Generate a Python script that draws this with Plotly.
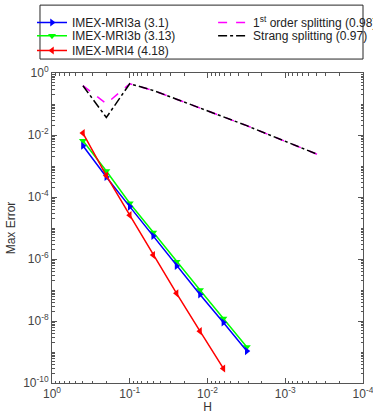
import plotly.graph_objects as go

H_imex = [0.4, 0.2, 0.1, 0.05, 0.025, 0.0125, 0.00625, 0.003125]
H_split = [0.4, 0.2, 0.1, 0.05, 0.025, 0.0125, 0.00625, 0.003125,
           0.0015625, 0.00078125, 0.000390625]

err_mri3a = [4.5e-3, 4.4e-4, 4.9e-5, 5.5e-6, 6.0e-7, 7.2e-8, 8.9e-9, 1.07e-9]
err_mri3b = [6.5e-3, 6.9e-4, 6.3e-5, 7.2e-6, 8.1e-7, 1.0e-7, 1.2e-8, 1.45e-9]
err_mri4 = [1.15e-2, 4.9e-4, 2.6e-5, 1.35e-6, 7.8e-8, 4.7e-9, 2.95e-10]
err_first = [0.389, 0.102, 0.451, 0.274, 0.143, 0.0745, 0.0402, 0.020,
             0.00984, 0.00485, 0.0024]
err_strang = [0.389, 0.0367, 0.451, 0.274, 0.143, 0.0745, 0.0402, 0.020,
              0.00984, 0.00485, 0.0024]

names = ["IMEX-MRI3a (3.1)", "IMEX-MRI3b (3.13)", "IMEX-MRI4 (4.18)",
         "1<sup>st</sup> order splitting (0.98)",
         "Strang splitting (0.97)"]

x_tickvals = [1, 0.1, 0.01, 0.001, 0.0001]
x_ticktext = ["10<sup>0</sup>", "10<sup>-1</sup>", "10<sup>-2</sup>",
              "10<sup>-3</sup>", "10<sup>-4</sup>"]
y_tickvals = [1, 1e-2, 1e-4, 1e-6, 1e-8, 1e-10]
y_ticktext = ["10<sup>0</sup>", "10<sup>-2</sup>", "10<sup>-4</sup>",
              "10<sup>-6</sup>", "10<sup>-8</sup>", "10<sup>-10</sup>"]

x_minor = [k * 10.0 ** d for d in range(-4, 0) for k in range(2, 10)]
y_minor = [k * 10.0 ** d for d in range(-10, 0) for k in range(1, 10)
           if not (k == 1 and d % 2 == 0)]

fig = go.Figure()

fig.add_trace(go.Scatter(x=H_split, y=err_first, mode="lines", name=names[3],
                         line=dict(color="#ff00ff", width=1.5, dash="dash"),
                         legend="legend4"))
fig.add_trace(go.Scatter(x=H_split, y=err_strang, mode="lines", name=names[4],
                         line=dict(color="black", width=1.5, dash="dashdot"),
                         legend="legend5"))
fig.add_trace(go.Scatter(x=H_imex, y=err_mri3b, mode="lines+markers", name=names[1],
                         line=dict(color="#00ff00", width=1.5),
                         marker=dict(symbol="triangle-down", size=7, color="#00ff00"),
                         legend="legend2"))
fig.add_trace(go.Scatter(x=H_imex, y=err_mri3a, mode="lines+markers", name=names[0],
                         line=dict(color="#0000ff", width=1.5),
                         marker=dict(symbol="triangle-right", size=7, color="#0000ff"),
                         legend="legend"))
fig.add_trace(go.Scatter(x=H_imex[:7], y=err_mri4, mode="lines+markers", name=names[2],
                         line=dict(color="#ff0000", width=1.5),
                         marker=dict(symbol="triangle-left", size=7, color="#ff0000"),
                         legend="legend3"))

axis_common = dict(
    type="log", showgrid=False, zeroline=False, showline=True,
    linecolor="#555555", linewidth=1, mirror="allticks",
    ticks="inside", ticklen=5, tickcolor="#555555", tickwidth=1,
    tickfont=dict(size=12, color="#444444"),
    tickmode="array", ticklabeloverflow="allow",
)

fig.update_xaxes(**axis_common, range=[0, -4], tickvals=x_tickvals, ticktext=x_ticktext,
                 minor=dict(ticks="inside", ticklen=2.5, tickcolor="#555555",
                            tickmode="array", tickvals=x_minor, showgrid=False),
                 title=dict(text="H", font=dict(size=12, color="#333333"), standoff=4))
fig.update_yaxes(**axis_common, range=[-10, 0], tickvals=y_tickvals, ticktext=y_ticktext,
                 minor=dict(ticks="inside", ticklen=2.5, tickcolor="#555555",
                            tickmode="array", tickvals=y_minor, showgrid=False),
                 title=dict(text="Max Error", font=dict(size=12, color="#333333"), standoff=4))

leg_common = dict(yanchor="top", xanchor="left",
                  bgcolor="rgba(0,0,0,0)", borderwidth=0,
                  font=dict(size=12, color="#222222"), itemwidth=30,
                  tracegroupgap=0)
leg_v = dict(**leg_common, orientation="v")
leg_h = dict(**leg_common, orientation="h", entrywidth=152, entrywidthmode="pixels")

col1_x, col2_x = -0.0643, 0.518
row_y = [1.2097, 1.1668, 1.1194]

fig.update_layout(
    width=373, height=414,
    margin=dict(l=52, r=10, t=73, b=31, autoexpand=False),
    paper_bgcolor="white", plot_bgcolor="white",
    font=dict(family="Liberation Sans, Arial, sans-serif", size=12, color="#222222"),
    showlegend=True,
    legend=dict(**leg_v, x=col1_x, y=row_y[0]),
    legend2=dict(**leg_v, x=col1_x, y=row_y[1]),
    legend3=dict(**leg_v, x=col1_x, y=row_y[2]),
    legend4=dict(**leg_h, x=col2_x, y=row_y[0]),
    legend5=dict(**leg_h, x=col2_x, y=row_y[1]),
    shapes=[dict(type="rect", xref="paper", yref="paper",
                 x0=-0.0386, x1=1.0, y0=1.045, y1=1.219,
                 line=dict(color="#262626", width=1), fillcolor="rgba(0,0,0,0)",
                 layer="above")],
)

fig.write_html("out.html", config={"displayModeBar": False},
               post_script="document.body.style.margin='0';")
